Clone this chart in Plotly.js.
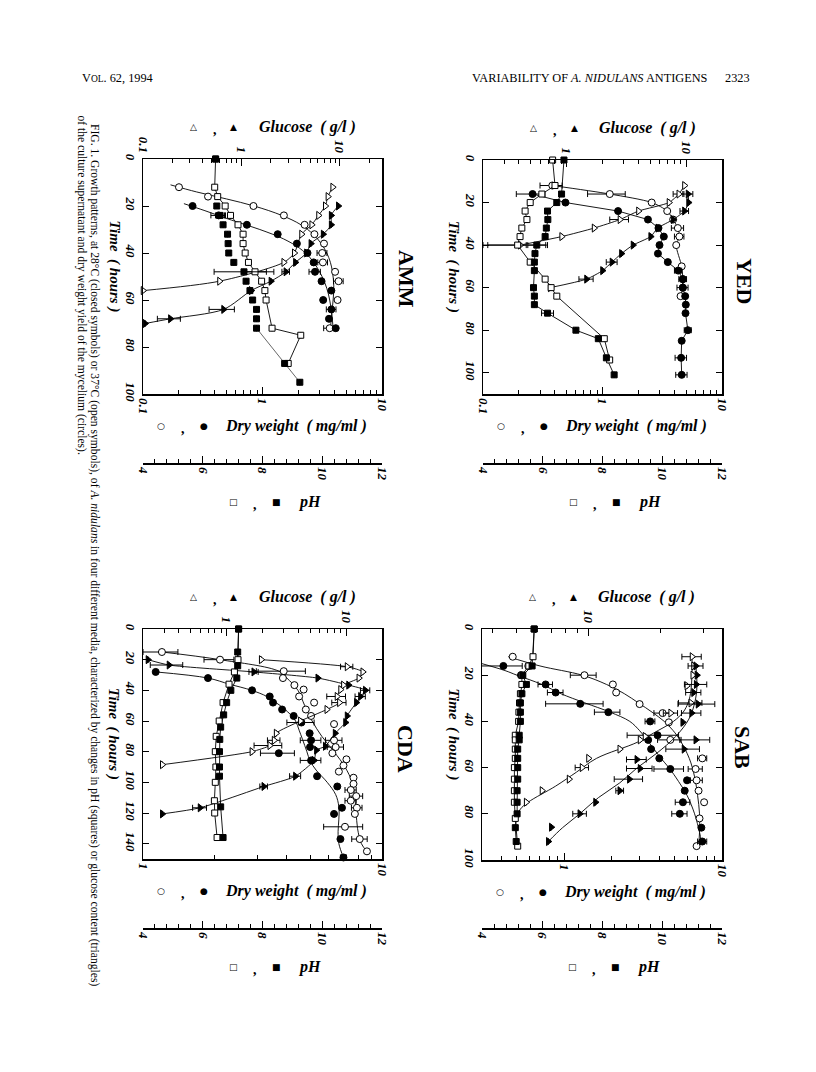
<!DOCTYPE html>
<html><head><meta charset="utf-8">
<script src="https://cdn.plot.ly/plotly-3.0.1.min.js"></script>
<style>html,body{margin:0;padding:0;background:#fff}#chart{width:816px;height:1072px}</style>
</head><body><div id="chart"></div>
<script>
// ================= DATA =================
// t = time (hours); values: pH, dry weight (mg/ml), glucose (g/l); O = 37°C open, F = 28°C closed
// ---- AMM ----
const amm_sqO_t=[0,12,16,20,24,28,32,36,40,44,48,52,56,60,72,75,87];
const amm_sqO_v=[6.43,6.4,6.5,6.75,6.93,7.18,7.35,7.35,7.42,7.53,7.75,7.97,8.08,8.12,8.32,9.28,8.86];
const amm_sqO_e=[null,null,null,null,null,null,null,null,null,null,0.38,null,null,null,null,null,null];
const amm_sqF_t=[0,20,24,28,32,36,40,44,48,52,56,60,64,68,72,87,95];
const amm_sqF_v=[6.43,6.47,6.58,6.68,6.83,6.85,6.87,7.04,7.38,7.45,7.58,7.67,7.8,7.8,7.8,8.74,9.25];
const amm_sqF_e=[null,null,0.15,null,null,null,null,null,1.0,null,null,null,null,null,null,null,null];
const amm_cO_t=[12,16,20,24,28,32,36,40,44,48,52,60,72];
const amm_cO_v=[0.2,0.35,0.84,1.51,2.25,2.72,3.27,3.16,3.2,4.05,4.33,4.25,3.65];
const amm_cO_e=[null,null,null,null,null,null,null,0.3,0.3,null,0.4,null,0.4];
const amm_cF_t=[20,24,28,32,36,40,44,48,52,56,60,64,68,72];
const amm_cF_v=[0.26,0.43,0.74,1.34,1.94,2.38,2.68,2.75,3.12,3.77,3.22,3.77,3.6,4.1];
const amm_cF_e=[null,0.06,null,null,null,null,null,0.3,null,null,null,0.35,null,null];
const amm_cOfit_t=[11,14,17,20,24,28,32,36,40,44,48,54,60,66,72];
const amm_cOfit_v=[0.17,0.28,0.5,0.85,1.45,2.1,2.65,3.1,3.45,3.7,3.85,3.95,3.9,3.8,3.7];
const amm_cFfit_t=[19,22,26,30,34,38,42,46,50,55,60,66,72];
const amm_cFfit_v=[0.22,0.33,0.55,0.95,1.5,2.05,2.5,2.85,3.15,3.45,3.65,3.8,3.9];
const amm_gO_t=[12,16,20,24,28,32,40,44,52,56];
const amm_gO_v=[8.5,7.6,7.15,6.1,5.2,4.1,3.46,2.7,0.6,0.1];
const amm_gF_t=[20,24,28,32,36,40,44,48,52,56,64,68,70];
const amm_gF_v=[9.7,8.2,8.2,6.8,5.1,4.6,3.55,2.84,2.0,1.26,0.66,0.19,0.105];
const amm_gF_e=[null,null,null,null,null,null,null,0.25,null,null,0.19,0.05,null];
// ---- YED ----
const yed_sqO_t=[0,12,16,20,24,28,32,36,40,48,56,60,64,84,94];
const yed_sqO_v=[6.33,6.41,5.97,5.58,5.41,5.47,5.3,5.24,5.16,5.58,6.08,6.28,6.47,8.06,8.24];
const yed_sqO_e=[null,null,null,null,null,null,null,null,1.0,null,null,null,null,null,null];
const yed_sqF_t=[0,16,20,24,28,32,36,40,44,48,52,60,64,68,72,80,84,93,101];
const yed_sqF_v=[6.71,6.63,6.47,6.16,6.17,6.12,6.08,5.8,5.74,5.72,5.72,5.69,5.72,5.72,6.16,7.11,7.86,8.13,8.39];
const yed_sqF_e=[null,null,null,null,null,null,null,0.3,null,null,null,null,null,null,0.2,null,null,null,null];
const yed_cO_t=[12,16,20,24,28,32,36,40,50,56,60,64];
const yed_cO_v=[0.38,1.15,2.58,3.48,3.9,4.27,4.4,4.14,4.6,4.7,4.7,4.5];
const yed_cO_e=[0.08,0.4,null,null,null,0.5,0.4,null,null,null,0.5,null];
const yed_cF_t=[16,20,24,28,32,36,40,44,48,52,56,60,64,68,72,80,85,93,101];
const yed_cF_v=[0.26,0.49,1.35,2.4,2.94,3.26,3.0,2.91,3.52,4.3,4.7,4.7,4.92,4.98,4.95,5.18,4.6,4.55,4.6];
const yed_cF_e=[0.07,null,null,null,null,null,null,null,null,0.3,0.35,null,null,null,null,0.35,null,0.5,0.5];
const yed_gO_t=[12,16,20,24,28,32,36,40];
const yed_gO_v=[9.7,8.7,7.2,4.0,2.8,1.7,0.91,0.41];
const yed_gO_ep=[null,0.9,null,null,0.5,null,null,0.05];
const yed_gO_em=[null,0.9,null,null,0.5,null,null,0.21];
const yed_gF_t=[16,20,24,28,32,36,40,44,48,52,56,60];
const yed_gF_v=[10.4,10.5,9.7,7.8,5.8,5.06,3.6,2.88,2.4,2.0,1.47,0.73];
const yed_gF_e=[1.0,null,0.8,null,null,null,null,null,0.25,null,0.2,null];
// ---- CDA ----
const cda_sqO_t=[0,20,28,36,48,60,70,80,90,100,112,120,136];
const cda_sqO_v=[7.2,7.18,7.06,6.88,6.68,6.55,6.45,6.42,6.44,6.42,6.39,6.4,6.48];
const cda_sqF_t=[0,15,24,32,40,48,56,64,72,80,90,96,116,136];
const cda_sqF_v=[7.2,7.17,7.17,7.14,6.94,6.8,6.7,6.6,6.57,6.56,6.56,6.56,6.6,6.68];
const cda_cO_t=[15,20,27.5,32,36.6,39.5,44,48,52.5,56.7,62,72.6,77,81,85,89,93,97,101,105,109,112,116.6,120.6,129,137,145];
const cda_cO_v=[1.2,2.1,3.88,3.85,4.3,4.7,4.5,5.2,4.8,5.05,6.3,6.3,6.4,6.2,7.1,6.9,6.6,7.6,7.6,7.4,7.8,7.4,7.85,7.7,7.0,8.07,8.65];
const cda_cO_e=[0.2,0.3,0.9,null,null,null,null,null,null,null,null,0.5,0.5,null,null,null,null,null,null,0.4,0.5,0.4,0.4,null,1.3,0.6,null];
const cda_cF_t=[28,32,40,44,48,52.5,56.7,61,68,72.6,77,81,85.7,96,102.7,116.6,120.6,137,149];
const cda_cF_v=[1.13,1.87,2.86,3.39,3.5,3.82,4.27,4.6,4.98,5.05,5.0,3.7,5.05,5.35,6.5,6.8,6.3,6.7,6.9];
const cda_cF_e=[null,null,null,null,null,null,null,0.6,null,0.5,null,0.6,0.5,null,null,null,null,null,0.2];
const cda_cOfit_t=[15,20,27.5,32,40,50,60,70,80,90,100,110,120,130,140,145];
const cda_cOfit_v=[1.2,2.1,3.7,4.0,4.45,4.75,5.1,5.6,6.3,7.0,7.5,7.7,7.8,7.9,8.2,8.65];
const cda_cFfit_t=[28,32,36,40,44,48,52,56,60,66,72,80,86,92,100,108,116,124,132,140,149];
const cda_cFfit_v=[1.13,1.87,2.3,2.85,3.3,3.6,3.9,4.15,4.35,4.5,4.65,4.85,5.0,5.3,5.9,6.4,6.6,6.6,6.55,6.6,6.9];
const cda_gO_t=[20,24.6,28,32,36.6,39.5,44,48,52.5,60,68,72.6,76,80,88.5];
const cda_gO_v=[1.95,10.2,13.8,12.8,9.5,9.0,8.4,8.8,6.9,4.15,2.6,2.5,2.3,1.63,0.29];
const cda_gO_e=[null,1.2,null,null,null,null,1.5,1.2,null,null,null,0.3,0.6,null,null];
const cda_gF_t=[20,23.5,28,32,36.6,40,44,48,56.7,61,68,76.5,79,85.7,96,102.7,116.6,120.6];
const cda_gF_v=[0.22,0.33,1.69,5.8,10.5,14.5,13.2,12.2,10.2,9.9,8.1,6.7,5.65,5.4,3.77,2.05,0.6,0.29];
const cda_gF_e=[null,0.1,0.15,null,null,1.3,1.3,null,null,null,null,null,null,null,0.4,0.15,0.08,null];
// ---- SAB ----
const sab_sqO_t=[0,12,16,20,24,28,32,36,40,46,48,52,56,60,65,70,75,82,94];
const sab_sqO_v=[5.74,5.7,5.56,5.33,5.33,5.28,5.25,5.23,5.22,5.11,5.11,5.11,5.11,5.08,5.08,5.08,5.08,5.11,5.19];
const sab_sqF_t=[0,16,20,24,28,32,36,40,46,48,52,56,60,65,70,75,80,86,92];
const sab_sqF_v=[5.74,5.67,5.36,5.48,5.33,5.28,5.28,5.28,5.24,5.24,5.19,5.19,5.19,5.19,5.17,5.17,5.17,5.11,5.14];
const sab_cO_t=[12,16,20,24,27.5,32.5,36.4,40.4,48,56,60.6,65.5,70,75,82,94];
const sab_cO_v=[0.47,0.59,1.34,2.03,2.13,3.0,4.2,4.6,4.7,7.5,6.8,6.9,7.1,7.7,7.2,6.9];
const sab_cO_e=[null,null,0.25,null,null,null,0.5,null,0.8,0.5,0.7,0.6,null,null,null,null];
const sab_cF_t=[16,20,24,27.5,32.4,36,40,46,48,52,56,60.6,65.5,70,75,80,86,92];
const sab_cF_v=[0.41,0.53,0.76,0.88,1.26,1.9,3.5,3.9,3.4,3.55,4.0,4.7,6.0,5.8,5.65,5.4,7.4,7.5];
const sab_cF_e=[0.13,null,0.08,0.1,0.5,0.35,0.25,1.4,null,null,null,1.0,null,null,0.6,0.6,null,0.5];
const sab_cOfit_t=[12,16,20,24,28,32,36,40,44,48,56,64,72,80,88,94];
const sab_cOfit_v=[0.44,0.7,1.3,1.85,2.4,2.95,3.6,4.3,4.9,5.4,6.2,6.7,7.0,7.2,7.2,7.1];
const sab_cFfit_t=[15,18,20,24,28,32,36,40,44,48,52,56,60,66,72,80,88,92];
const sab_cFfit_v=[0.3,0.42,0.5,0.72,0.95,1.35,1.95,2.6,3.0,3.35,3.7,4.1,4.6,5.3,6.0,6.7,7.2,7.4];
const sab_gO_t=[12,16,20,24.6,32,36.4,46.5,48,52,56,60,65,70,75];
const sab_gO_v=[27,27.4,27.2,25.7,26.7,22,17.2,16.4,13.5,10,9.4,8.3,6.4,5.5];
const sab_gO_e=[2.5,null,null,null,3,1.5,null,null,null,null,0.6,null,null,null];
const sab_gF_t=[16,20,24,27.5,32.5,36.4,40.4,48,52,56.5,60.4,65,70,75,80,85.8,92];
const sab_gF_v=[28,28.3,28.1,27.4,28.6,26.9,24.7,28,25,15.9,16.4,14.8,13.5,10.7,9.2,7.0,6.8];
const sab_gF_e=[2,null,3,2,5,2.5,null,4,4,1.5,2,2,0.5,null,0.6,null,null];
const sab_gOfit_t=[12,20,28,32,36,40,45,49,56,62,68,75,78,81.7];
const sab_gOfit_v=[27,27,26.6,26,24.8,22.6,18.7,16,10.8,8.9,7.3,5.6,5.2,5.0];
const sab_gFfit_t=[16,25,32,39,46.5,53.7,60,66.6,73,80,86,92];
const sab_gFfit_v=[28,28.3,27.7,26.2,23.1,19.3,16.0,13.5,11.0,9.2,7.8,6.8];

// tick labels
const dwTicks=[[0.1,1,10],[0.1,1,10],[1,10],[1,10]];
const glTicks=[[0.1,1,10],[1,10],[1,10],[10]];
const phTicks=[4,6,8,10,12];

// ================= LAYOUT =================
const W=816,H=1072;
const fx=x=>x/W, fy=y=>1-y/H;
const panels=[
 {name:'AMM',x0:143,x1:382,y0:159,y1:394,tmax:100,dw:[0.1,10],gl:[0.1,27],phY:463,lx:406,ly:279},
 {name:'YED',x0:483,x1:722,y0:160,y1:394,tmax:110,dw:[0.1,10],gl:[0.2,20],phY:463,lx:745,ly:281},
 {name:'CDA',x0:143,x1:382,y0:629,y1:859,tmax:150,dw:[1,10],gl:[0.2,20],phY:928,lx:406,ly:749},
 {name:'SAB',x0:482,x1:722,y0:629,y1:860,tmax:100,dw:[0.3,10],gl:[3.6,36],phY:928,lx:743,ly:747}
];
const SERIF='Liberation Serif, Times New Roman, serif';
const tickFont={family:SERIF,size:13,weight:'bold',style:'italic',color:'#000'};
const xn=(p,k)=>3*p+k;
const xid=(p,k)=>'x'+(xn(p,k)===1?'':xn(p,k));
const yid=p=>'y'+(p===0?'':p+1);
const xkey=(p,k)=>'xaxis'+(xn(p,k)===1?'':xn(p,k));
const ykey=p=>'yaxis'+(p===0?'':p+1);

function minorLog(lo,hi){const out=[];for(let d=-2;d<=2;d++){for(let m=2;m<=9;m++){const v=m*Math.pow(10,d);if(v>lo*1.0001&&v<hi*0.9999)out.push(v);}}return out;}

const layout={width:W,height:H,margin:{l:0,r:0,t:0,b:0},paper_bgcolor:'#fff',plot_bgcolor:'#fff',showlegend:false,annotations:[]};

panels.forEach((P,p)=>{
  const dom=[fx(P.x0),fx(P.x1)];
  const common={showgrid:false,zeroline:false,showline:true,linecolor:'#000',linewidth:1.5,ticks:'inside',tickcolor:'#000',tickwidth:1,tickangle:90,tickfont:tickFont};
  layout[xkey(p,1)]=Object.assign({},common,{domain:dom,anchor:yid(p),type:'log',side:'bottom',
    range:[Math.log10(P.dw[0]),Math.log10(P.dw[1])],tickmode:'array',tickvals:dwTicks[p],ticktext:dwTicks[p].map(String),ticklen:7,
    minor:{ticks:'inside',ticklen:4,tickcolor:'#000',tickvals:minorLog(P.dw[0],P.dw[1])}});
  layout[xkey(p,2)]=Object.assign({},common,{overlaying:xid(p,1),anchor:yid(p),type:'log',side:'top',
    range:[Math.log10(P.gl[0]),Math.log10(P.gl[1])],tickmode:'array',tickvals:glTicks[p],ticktext:glTicks[p].map(String),ticklen:7,
    minor:{ticks:'inside',ticklen:4,tickcolor:'#000',tickvals:minorLog(P.gl[0],P.gl[1])}});
  layout[xkey(p,3)]=Object.assign({},common,{overlaying:xid(p,1),anchor:'free',position:fy(P.phY),side:'bottom',type:'linear',
    range:[4,12],tickmode:'array',tickvals:phTicks,ticktext:phTicks.map(String),ticklen:7,
    minor:{ticks:'inside',ticklen:4,tickcolor:'#000',dtick:0.4,tick0:4}});
  const tv=[];for(let t=0;t<=P.tmax;t+=20)tv.push(t);
  layout[ykey(p)]=Object.assign({},common,{domain:[fy(P.y1),fy(P.y0)],anchor:xid(p,1),range:[P.tmax,0],mirror:'ticks',
    tickmode:'array',tickvals:tv,ticktext:tv.map(String),ticklen:6});
});

// ================= TRACES =================
const traces=[];
const AX={dw:1,gl:2,ph:3};
function lineTr(p,ax,t,v,opt={}){
  traces.push({type:'scatter',mode:'lines',x:v,y:t,xaxis:xid(p,AX[ax]),yaxis:yid(p),hoverinfo:'skip',
    line:{color:'#000',width:opt.w||0.9,shape:opt.shape||'linear',smoothing:opt.sm||1,dash:opt.dash||'solid'}});
}
function markTr(p,ax,t,v,sym,open,opt={}){
  const tr={type:'scatter',mode:'markers',x:v,y:t,xaxis:xid(p,AX[ax]),yaxis:yid(p),hoverinfo:'skip',cliponaxis:false,
    marker:{symbol:sym,size:opt.size||7,color:open?'#fff':'#000',line:{color:'#000',width:1}}};
  if(opt.err)tr.error_x={type:'data',array:opt.err,symmetric:true,color:'#000',thickness:1,width:3};
  if(opt.errp)tr.error_x={type:'data',array:opt.errp,arrayminus:opt.errm,symmetric:false,color:'#000',thickness:1,width:3};
  traces.push(tr);
}
const SQ='square',CI='circle',TR='triangle-right';

// AMM (p=0)
lineTr(0,'ph',amm_sqO_t,amm_sqO_v);
lineTr(0,'ph',amm_sqF_t.slice(-3),amm_sqF_v.slice(-3),{w:0.6});
lineTr(0,'dw',amm_cOfit_t,amm_cOfit_v,{shape:'spline'});
lineTr(0,'dw',amm_cFfit_t,amm_cFfit_v,{shape:'spline'});
lineTr(0,'gl',amm_gO_t,amm_gO_v,{shape:'spline',sm:0.8});
lineTr(0,'gl',amm_gF_t,amm_gF_v,{shape:'spline',sm:0.8});
// YED (p=1)
lineTr(1,'ph',yed_sqO_t,yed_sqO_v);
lineTr(1,'ph',yed_sqF_t,yed_sqF_v);
lineTr(1,'dw',yed_cO_t,yed_cO_v,{shape:'spline',sm:0.8});
lineTr(1,'dw',yed_cF_t,yed_cF_v);
lineTr(1,'gl',yed_gO_t,yed_gO_v,{shape:'spline',sm:0.6});
lineTr(1,'gl',yed_gF_t,yed_gF_v,{shape:'spline',sm:0.6});
// CDA (p=2)
lineTr(2,'ph',cda_sqO_t,cda_sqO_v);
lineTr(2,'ph',cda_sqF_t,cda_sqF_v);
lineTr(2,'dw',cda_cOfit_t,cda_cOfit_v,{shape:'spline'});
lineTr(2,'dw',cda_cFfit_t,cda_cFfit_v,{shape:'spline'});
lineTr(2,'gl',cda_gO_t,cda_gO_v,{shape:'spline',sm:0.6});
lineTr(2,'gl',cda_gF_t,cda_gF_v,{shape:'spline',sm:0.6});
// SAB (p=3)
lineTr(3,'ph',sab_sqO_t,sab_sqO_v);
lineTr(3,'ph',sab_sqF_t,sab_sqF_v);
lineTr(3,'dw',sab_cOfit_t,sab_cOfit_v,{shape:'spline'});
lineTr(3,'dw',sab_cFfit_t,sab_cFfit_v,{shape:'spline'});
lineTr(3,'gl',sab_gOfit_t,sab_gOfit_v,{shape:'spline'});
lineTr(3,'gl',sab_gFfit_t,sab_gFfit_v,{shape:'spline'});

// markers
markTr(0,'ph',amm_sqO_t,amm_sqO_v,SQ,true,{size:6,err:amm_sqO_e});
markTr(0,'ph',amm_sqF_t,amm_sqF_v,SQ,false,{size:6,err:amm_sqF_e});
markTr(0,'dw',amm_cO_t,amm_cO_v,CI,true,{err:amm_cO_e});
markTr(0,'dw',amm_cF_t,amm_cF_v,CI,false,{err:amm_cF_e});
markTr(0,'gl',amm_gO_t,amm_gO_v,TR,true);
markTr(0,'gl',amm_gF_t,amm_gF_v,TR,false,{err:amm_gF_e});

markTr(1,'ph',yed_sqO_t,yed_sqO_v,SQ,true,{size:6,err:yed_sqO_e});
markTr(1,'ph',yed_sqF_t,yed_sqF_v,SQ,false,{size:6,err:yed_sqF_e});
markTr(1,'dw',yed_cO_t,yed_cO_v,CI,true,{err:yed_cO_e});
markTr(1,'dw',yed_cF_t,yed_cF_v,CI,false,{err:yed_cF_e});
markTr(1,'gl',yed_gO_t,yed_gO_v,TR,true,{errp:yed_gO_ep,errm:yed_gO_em});
markTr(1,'gl',yed_gF_t,yed_gF_v,TR,false,{err:yed_gF_e});

markTr(2,'ph',cda_sqO_t,cda_sqO_v,SQ,true,{size:6});
markTr(2,'ph',cda_sqF_t,cda_sqF_v,SQ,false,{size:6});
markTr(2,'dw',cda_cO_t,cda_cO_v,CI,true,{err:cda_cO_e});
markTr(2,'dw',cda_cF_t,cda_cF_v,CI,false,{err:cda_cF_e});
markTr(2,'gl',cda_gO_t,cda_gO_v,TR,true,{err:cda_gO_e});
markTr(2,'gl',cda_gF_t,cda_gF_v,TR,false,{err:cda_gF_e});

markTr(3,'ph',sab_sqO_t,sab_sqO_v,SQ,true,{size:6});
markTr(3,'ph',sab_sqF_t,sab_sqF_v,SQ,false,{size:6});
markTr(3,'dw',sab_cO_t,sab_cO_v,CI,true,{err:sab_cO_e});
markTr(3,'dw',sab_cF_t,sab_cF_v,CI,false,{err:sab_cF_e});
markTr(3,'gl',sab_gO_t,sab_gO_v,TR,true,{err:sab_gO_e});
markTr(3,'gl',sab_gF_t,sab_gF_v,TR,false,{err:sab_gF_e});

// ================= TEXT =================
const A=layout.annotations;
function txt(x,y,text,font,o={}){A.push(Object.assign({xref:'paper',yref:'paper',x:fx(x),y:fy(y),text:text,showarrow:false,font:font,xanchor:'center',yanchor:'middle'},o));}
const titleFont={family:SERIF,size:16,weight:'bold',style:'italic',color:'#000'};
const symFont={family:'DejaVu Sans',size:9,color:'#000'};
const commaFont={family:SERIF,size:14,weight:'bold',color:'#000'};
panels.forEach((P,p)=>{
  const dx=(p%2===1)?P.x0-143:0;
  const gy=P.y0-32, dwy=P.y1+32, phy=P.phY+39;
  // glucose title
  txt(193+dx,gy,'△',symFont); txt(215+dx,gy+2,',',commaFont); txt(234+dx,gy,'▲',symFont);
  txt(307+dx,gy,'Glucose  ( g/l )',titleFont);
  // dry weight title
  txt(161+dx,dwy,'○',symFont); txt(183+dx,dwy+2,',',commaFont); txt(204+dx,dwy,'●',symFont);
  txt(296+dx,dwy,'Dry weight  ( mg/ml )',titleFont);
  // pH title
  txt(233+dx,phy,'□',symFont); txt(255+dx,phy+2,',',commaFont); txt(276+dx,phy,'■',symFont);
  txt(309+dx,phy,'pH',titleFont);
  // time title
  txt(P.x0-29,(P.y0+P.y1)/2-10,'Time  ( hours )',{family:SERIF,size:15,weight:'bold',style:'italic',color:'#000'},{textangle:90});
  // panel label
  txt(P.lx,P.ly,P.name,{family:SERIF,size:22,weight:'bold',color:'#000'},{textangle:90});
});
// header
const hf={family:SERIF,size:12.3,color:'#000'};
txt(80,78,'V<span style="font-size:9.5px">OL</span>. 62, 1994',hf,{xanchor:'left'});
txt(470,78,'VARIABILITY OF <i>A. NIDULANS</i> ANTIGENS',hf,{xanchor:'left'});
txt(752,78,'2323',hf,{xanchor:'right'});
// caption (rotated)
const cf={family:SERIF,size:11.6,color:'#000'};
txt(95,122,'FIG. 1. Growth patterns, at 28°C (closed symbols) or 37°C (open symbols), of <i>A. nidulans</i> in four different media, characterized by changes in pH (squares) or glucose content (triangles)',cf,{textangle:90,yanchor:'top'});
txt(81,113,'of the culture supernatant and dry weight yield of the mycelium (circles).',cf,{textangle:90,yanchor:'top'});

Plotly.newPlot('chart',traces,layout,{staticPlot:true,displayModeBar:false});
</script></body></html>
